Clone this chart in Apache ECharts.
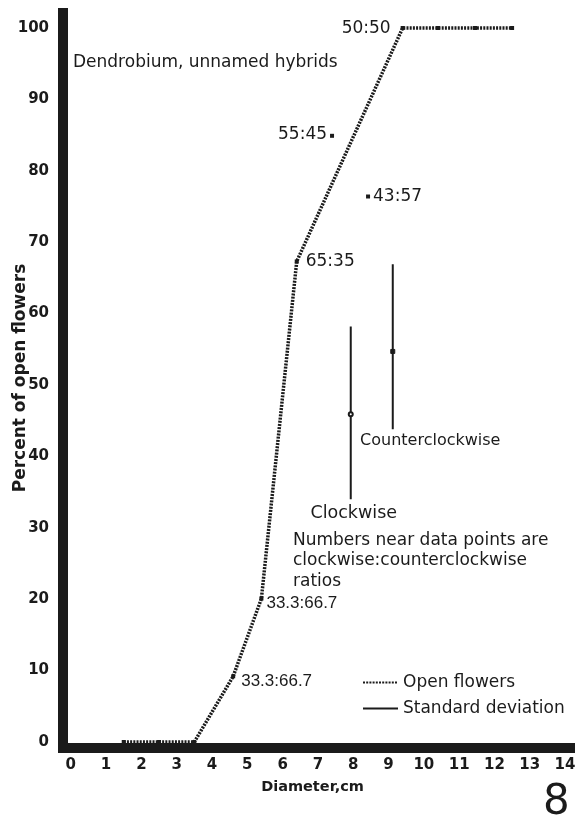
<!DOCTYPE html>
<html><head><meta charset="utf-8">
<script src="https://cdn.jsdelivr.net/npm/echarts@6/dist/echarts.min.js"></script>
<style>html,body{margin:0;padding:0;background:#fff}#c{width:580px;height:820px}</style>
</head><body><div id="c"></div>
<script>
// ---- data ----
const diameters   = [1.5, 2.5, 3.5, 4.6, 5.4, 6.4, 9.4, 10.4, 11.45, 12.5];
const openPercent = [0, 0, 0, 9.2, 20.1, 67.3, 100, 100, 100, 100];
const openRatios  = ['', '', '', '33.3:66.7', '33.3:66.7', '65:35', '50:50', '', '', ''];
const extraDiam    = [7.4, 8.42];
const extraPercent = [84.9, 76.4];
const extraRatios  = ['55:45', '43:57'];
const sdNames = ['Clockwise', 'Counterclockwise'];
const sdDiam  = [7.93, 9.12];
const sdMean  = [45.9, 54.7];
const sdLow   = [34.0, 43.8];
const sdHigh  = [58.2, 66.9];
const xTickValues = [0,1,2,3,4,5,6,7,8,9,10,11,12,13,14];
const yTickValues = [0,10,20,30,40,50,60,70,80,90,100];
const titleText = 'Dendrobium, unnamed hybrids';
const noteText = 'Numbers near data points are\nclockwise:counterclockwise\nratios';
const figureNumber = '8';
const xName = 'Diameter,cm';
const yName = 'Percent of open flowers';

// ---- styles ----
const INK = '#1b1b1b';
const FONT = 'DejaVu Sans';
const ratioLabelLayout = {
  3: {position: 'right', distance: 6, offset: [0, 5], fontFamily: 'Liberation Sans'},
  4: {position: 'right', distance: 3, offset: [0, 5], fontFamily: 'Liberation Sans'},
  5: {position: 'right', distance: 7, offset: [0, 0]},
  6: {position: 'left', distance: 10, offset: [0, 1]}
};
const extraLabelLayout = [
  {position: 'left', distance: 3, offset: [0, -1]},
  {position: 'right', distance: 3, offset: [0, 0]}
];
const sdLabelLayout = [
  {offset: [3, 14], fontSize: 17.5},
  {offset: [37.5, 12], fontSize: 16}
];
const sdMeanSymbol = ['emptyCircle', 'rect'];

function labelBase(extra) {
  return Object.assign({show: true, color: INK, opacity: 1, fontSize: 17, fontFamily: FONT}, extra);
}

const openData = diameters.map((d, i) => {
  const item = {value: [d, openPercent[i]]};
  if (openRatios[i]) item.label = labelBase(Object.assign({formatter: openRatios[i]}, ratioLabelLayout[i] || {}));
  return item;
});
const extraData = extraDiam.map((d, i) => ({
  value: [d, extraPercent[i]],
  label: labelBase(Object.assign({formatter: extraRatios[i]}, extraLabelLayout[i]))
}));
const sdLineData = [];
sdDiam.forEach((d, i) => {
  sdLineData.push([d, sdLow[i]], [d, sdHigh[i]], [d, '-']);
});
const sdMeanData = sdDiam.map((d, i) => ({value: [d, sdMean[i]], symbol: sdMeanSymbol[i]}));
const sdLabelData = sdDiam.map((d, i) => ({
  value: [d, sdLow[i]],
  label: labelBase({formatter: sdNames[i], position: 'inside', align: 'center', verticalAlign: 'middle',
    offset: sdLabelLayout[i].offset, fontSize: sdLabelLayout[i].fontSize})
}));

const chart = echarts.init(document.getElementById('c'), null, {renderer: 'canvas'});
chart.setOption({
  animation: false,
  backgroundColor: '#ffffff',
  grid: {left: 63, right: 10, top: 8, bottom: 72, containLabel: false, outerBoundsMode: 'none'},
  xAxis: {
    type: 'value', min: -0.22, max: 14.14,
    axisLine: {show: true, onZero: false, lineStyle: {color: INK, width: 10, cap: 'square'}},
    axisTick: {show: false}, splitLine: {show: false},
    axisLabel: {customValues: xTickValues, color: INK, fontSize: 15, fontFamily: FONT, fontWeight: 'bold', margin: 10},
    name: xName, nameLocation: 'middle', nameGap: 32, nameMoveOverlap: false,
    nameTextStyle: {color: INK, fontSize: 14.5, fontFamily: FONT, fontWeight: 'bold', padding: [0, 8, 0, 0]}
  },
  yAxis: {
    type: 'value', min: -0.84, max: 102.8,
    axisLine: {show: true, onZero: false, lineStyle: {color: INK, width: 10, cap: 'butt'}},
    axisTick: {show: false}, splitLine: {show: false},
    axisLabel: {customValues: yTickValues, color: INK, fontSize: 15, fontFamily: FONT, fontWeight: 'bold', margin: 14},
    name: yName, nameLocation: 'middle', nameGap: 34, nameMoveOverlap: false,
    nameTextStyle: {color: INK, fontSize: 17, fontFamily: FONT, fontWeight: 'bold'}
  },
  legend: {
    data: [{name: 'Open flowers', itemStyle: {opacity: 0}}, {name: 'Standard deviation', itemStyle: {opacity: 0}}],
    orient: 'vertical', left: 362, top: 674, padding: 0, itemWidth: 35, itemHeight: 14, itemGap: 9,
    textStyle: {color: INK, fontSize: 17, fontFamily: FONT, lineHeight: 17},
    selectedMode: false
  },
  graphic: [
    {type: 'text', left: 73, top: 54, style: {text: titleText, fill: INK, fontSize: 17, fontFamily: FONT}},
    {type: 'text', left: 293, top: 530, style: {text: noteText, fill: INK, fontSize: 17, fontFamily: FONT, lineHeight: 20.5}},
    {type: 'text', left: 543, top: 782, style: {text: figureNumber, fill: INK, fontSize: 42, fontFamily: FONT}}
  ],
  series: [
    {
      name: 'Open flowers', type: 'line', data: openData, z: 4,
      symbol: 'rect', symbolSize: 4, itemStyle: {color: INK},
      lineStyle: {color: INK, width: 3.5, type: [2, 1.2]}
    },
    {
      name: 'ratios', type: 'scatter', data: extraData, z: 4,
      symbol: 'rect', symbolSize: 4, itemStyle: {color: INK, opacity: 1}
    },
    {
      name: 'Standard deviation', type: 'line', data: sdLineData, z: 3,
      symbol: 'none', connectNulls: false, itemStyle: {color: INK},
      lineStyle: {color: INK, width: 2, type: 'solid'}
    },
    {
      name: 'sdMean', type: 'scatter', data: sdMeanData, z: 5,
      symbolSize: 4, itemStyle: {color: INK, borderColor: INK, opacity: 1}
    },
    {
      name: 'sdLabel', type: 'scatter', data: sdLabelData, z: 5,
      symbolSize: 1, itemStyle: {color: 'rgba(0,0,0,0)', opacity: 1}
    }
  ]
});
</script></body></html>
